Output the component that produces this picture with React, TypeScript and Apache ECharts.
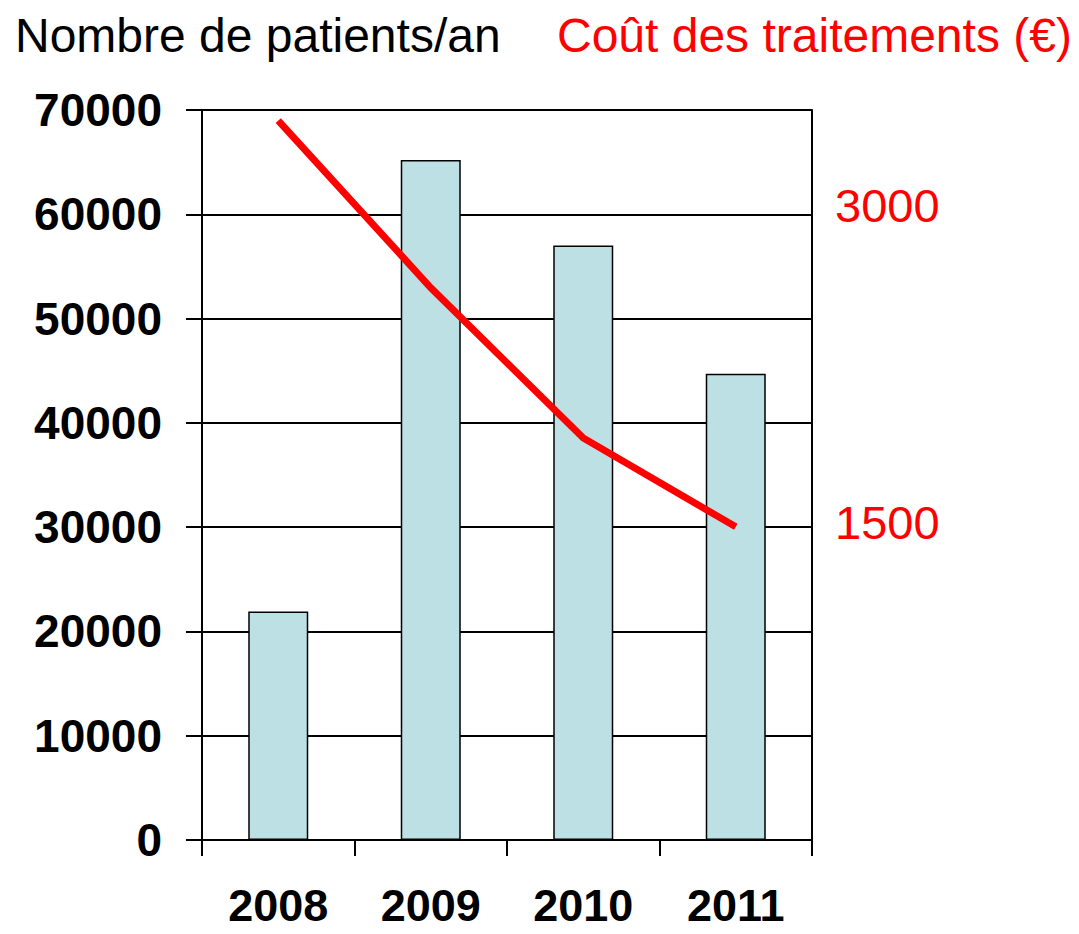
import React, { useEffect, useRef } from "react";
import * as echarts from "echarts";

const years = ["2008", "2009", "2010", "2011"];
const patients = [21900, 65200, 57000, 44700];
const costs = [3400, 2610, 1900, 1480];
const costLabels = [1500, 3000];
const leftTitle = "Nombre de patients/an";
const rightTitle = "Coût des traitements (€)";

const FONT = "'Liberation Sans', Arial, sans-serif";

export default function App() {
  const ref = useRef<HTMLDivElement>(null);
  useEffect(() => {
    if (!ref.current) return;
    const chart = echarts.init(ref.current, null, { renderer: "svg" });
    chart.setOption({
      animation: false,
      backgroundColor: "#ffffff",
      textStyle: { fontFamily: FONT },
      graphic: [
        {
          type: "text",
          left: 15,
          top: 11,
          style: { text: leftTitle, fontSize: 48, fontFamily: FONT, fill: "#000" },
        },
        {
          type: "text",
          left: 557,
          top: 11,
          style: { text: rightTitle, fontSize: 48, fontFamily: FONT, fill: "#ff0000" },
        },
      ],
      grid: { left: 202, right: 267, top: 110, bottom: 94, containLabel: false },
      xAxis: {
        type: "category",
        data: years,
        boundaryGap: true,
        axisLine: { show: true, lineStyle: { color: "#000", width: 2 } },
        axisTick: { show: true, length: 16, lineStyle: { color: "#000", width: 2 } },
        axisLabel: {
          margin: 46,
          fontSize: 45,
          lineHeight: 38,
          fontWeight: "bold",
          fontFamily: FONT,
          color: "#000",
        },
      },
      yAxis: [
        {
          type: "value",
          min: 0,
          max: 70000,
          interval: 10000,
          axisLine: { show: true, lineStyle: { color: "#000", width: 2 } },
          axisTick: { show: true, length: 16, lineStyle: { color: "#000", width: 2 } },
          axisLabel: {
            margin: 40,
            fontSize: 46,
            fontWeight: "bold",
            fontFamily: FONT,
            color: "#000",
            formatter: (v: number) => String(v),
          },
          splitLine: { show: true, lineStyle: { color: "#000", width: 2 } },
        },
        {
          type: "value",
          min: 0,
          max: 3450,
          interval: 1500,
          position: "right",
          axisLine: { show: true, lineStyle: { color: "#000", width: 2 } },
          axisTick: { show: false },
          splitLine: { show: false },
          axisLabel: {
            margin: 23,
            fontSize: 47,
            fontFamily: FONT,
            color: "#ff0000",
            showMinLabel: false,
            showMaxLabel: false,
            formatter: (v: number) => (costLabels.indexOf(v) >= 0 ? String(v) : ""),
          },
        },
      ],
      series: [
        {
          type: "bar",
          data: patients,
          barWidth: 60,
          yAxisIndex: 0,
          itemStyle: { color: "#bce0e3", borderColor: "#000", borderWidth: 1.5 },
        },
        {
          type: "line",
          data: costs,
          yAxisIndex: 1,
          symbol: "none",
          z: 5,
          lineStyle: { color: "#ff0000", width: 7, cap: "butt", join: "miter" },
        },
      ],
    });
    return () => chart.dispose();
  }, []);
  return (
    <div
      ref={ref}
      style={{ position: "fixed", left: 0, top: 0, width: 1079, height: 934 }}
    />
  );
}
